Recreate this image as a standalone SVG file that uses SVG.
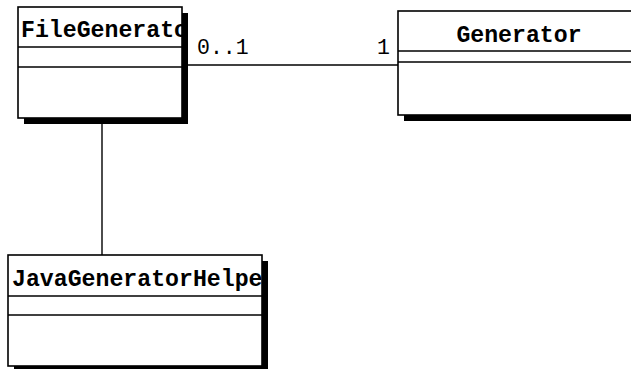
<svg xmlns="http://www.w3.org/2000/svg" width="631" height="369" viewBox="0 0 631 369">
<style>
.box{fill:#fff;stroke:#000;stroke-width:1.6}
.shadow{fill:#000}
.div{stroke:#000;stroke-width:1.6}
.name{font-family:"Liberation Mono","DejaVu Sans Mono",monospace;font-weight:bold;font-size:23.2px;fill:#000}
.mult{font-family:"Liberation Mono","DejaVu Sans Mono",monospace;font-size:21.5px;fill:#000}
.conn{stroke:#000;stroke-width:1.4;fill:none}
</style>
<defs>
<clipPath id="c1"><rect x="18" y="7" width="164" height="40"/></clipPath>
<clipPath id="c2"><rect x="398" y="11" width="242" height="40"/></clipPath>
<clipPath id="c3"><rect x="8" y="255" width="254" height="41"/></clipPath>
</defs>
<g id="connectors">
<line class="conn" x1="182" y1="65" x2="398" y2="65"/>
<line class="conn" x1="102" y1="118" x2="102" y2="255"/>
<text class="mult" x="197" y="54">0..1</text>
<text class="mult" x="390" y="54" text-anchor="end">1</text>
</g>
<g id="FileGenerator">
<rect class="shadow" x="24" y="13" width="164" height="111"/>
<rect class="box" x="18" y="7" width="164" height="111"/>
<line class="div" x1="18" y1="47" x2="182" y2="47"/>
<line class="div" x1="18" y1="67" x2="182" y2="67"/>
<text class="name" x="21" y="37" clip-path="url(#c1)">FileGenerator</text>
</g>
<g id="Generator">
<rect class="shadow" x="404" y="17" width="242" height="104"/>
<rect class="box" x="398" y="11" width="242" height="104"/>
<line class="div" x1="398" y1="51" x2="640" y2="51"/>
<line class="div" x1="398" y1="62" x2="640" y2="62"/>
<text class="name" x="519" y="42" text-anchor="middle" clip-path="url(#c2)">Generator</text>
</g>
<g id="JavaGeneratorHelper">
<rect class="shadow" x="14" y="261" width="254" height="111"/>
<rect class="box" x="8" y="255" width="254" height="111"/>
<line class="div" x1="8" y1="296" x2="262" y2="296"/>
<line class="div" x1="8" y1="315" x2="262" y2="315"/>
<text class="name" x="12" y="286" clip-path="url(#c3)">JavaGeneratorHelper</text>
</g>
</svg>
